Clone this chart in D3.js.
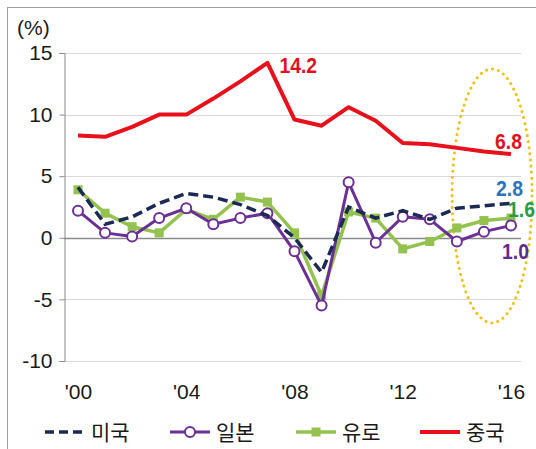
<!DOCTYPE html>
<html>
<head>
<meta charset="utf-8">
<script src="https://cdn.jsdelivr.net/npm/d3@7/dist/d3.min.js"></script>
<style>
  html, body { margin: 0; padding: 0; background: #fff; }
  svg { display: block; }
  .num { font-family: "Liberation Sans", Arial, sans-serif; }
  .kr { font-family: "Noto Sans CJK KR", sans-serif; }
</style>
</head>
<body>
<svg id="chart" width="536" height="449"></svg>
<script>
// Real GDP growth (%), 2000-2016
const years = d3.range(2000, 2017);
const xTickYears = [2000, 2004, 2008, 2012, 2016];
const yTicks = [15, 10, 5, 0, -5, -10];

const usGrowth    = [4.1, 1.1, 1.7, 2.8, 3.6, 3.3, 2.7, 1.8, 0.0, -2.8, 2.5, 1.6, 2.2, 1.5, 2.4, 2.6, 2.8];
const japanGrowth = [2.2, 0.4, 0.1, 1.6, 2.4, 1.1, 1.6, 2.0, -1.1, -5.5, 4.5, -0.4, 1.7, 1.5, -0.3, 0.5, 1.0];
const euroGrowth  = [3.9, 2.0, 0.9, 0.4, 2.3, 1.5, 3.3, 2.9, 0.4, -4.7, 2.1, 1.6, -0.9, -0.3, 0.8, 1.4, 1.6];
const chinaGrowth = [8.3, 8.2, 9.0, 10.0, 10.0, 11.3, 12.7, 14.2, 9.6, 9.1, 10.6, 9.5, 7.7, 7.6, 7.3, 7.0, 6.8];

const seriesNames = ["미국", "일본", "유로", "중국"];

const svg = d3.select("#chart");

// frame
svg.append("rect")
  .attr("x", 7.5).attr("y", 7.5).attr("width", 540).attr("height", 450)
  .attr("fill", "none").attr("stroke", "#a0a0a0").attr("stroke-width", 1);

const x = d3.scaleLinear().domain([2000, 2016]).range([78, 511]);
const y = d3.scaleLinear().domain([-10, 15]).range([361, 53]);

// gridlines
svg.append("g").selectAll("line")
  .data(yTicks)
  .join("line")
  .attr("x1", 64).attr("x2", 521)
  .attr("y1", d => Math.round(y(d)) + 0.5).attr("y2", d => Math.round(y(d)) + 0.5)
  .attr("stroke", d => d === 0 ? "#8a8a8a" : "#d9d9d9")
  .attr("stroke-width", d => d === 0 ? 1.3 : 1.2);

// y axis
const yAxis = d3.axisLeft(y).tickValues(yTicks).tickSize(5).tickPadding(7)
  .tickFormat(d => String(d));
const gy = svg.append("g").attr("transform", "translate(64.5,0)").call(yAxis);
gy.select(".domain").attr("stroke", "#8a8a8a");
gy.selectAll(".tick line").attr("stroke", "#8a8a8a");
gy.selectAll(".tick text")
  .attr("class", "num")
  .attr("font-size", 21)
  .attr("fill", "#1a1a1a");

// x tick labels
const xAxis = d3.axisBottom(x).tickValues(xTickYears)
  .tickFormat(d => "'" + String(d).slice(2)).tickSize(0).tickPadding(0);
const gx = svg.append("g").attr("transform", "translate(0,384)").call(xAxis);
gx.select(".domain").remove();
gx.selectAll(".tick text")
  .attr("class", "num")
  .attr("font-size", 21)
  .attr("fill", "#1a1a1a");

// unit label
svg.append("text").attr("class", "num")
  .attr("x", 17).attr("y", 35)
  .attr("font-size", 21).attr("fill", "#1a1a1a")
  .text("(%)");

// highlight ellipse around the latest years
svg.append("ellipse")
  .attr("cx", x(2015.3)).attr("cy", y(3.4))
  .attr("rx", 40).attr("ry", 127)
  .attr("fill", "none")
  .attr("stroke", "#efc218")
  .attr("stroke-width", 3)
  .attr("stroke-linecap", "round")
  .attr("stroke-dasharray", "0.1 6");

const line = d3.line().x((d, i) => x(years[i])).y(d => y(d));

const colors = {
  china: "#e8101a",
  us: "#1b2a55",
  japan: "#6b2f96",
  euro: "#93c24f"
};

// China
svg.append("path").datum(chinaGrowth)
  .attr("d", line).attr("fill", "none")
  .attr("stroke", colors.china).attr("stroke-width", 4)
  .attr("stroke-linejoin", "round");

// Euro area
svg.append("path").datum(euroGrowth)
  .attr("d", line).attr("fill", "none")
  .attr("stroke", colors.euro).attr("stroke-width", 3.5)
  .attr("stroke-linejoin", "round");
svg.append("g").selectAll("rect")
  .data(euroGrowth)
  .join("rect")
  .attr("x", (d, i) => x(years[i]) - 4.5)
  .attr("y", d => y(d) - 4.5)
  .attr("width", 9).attr("height", 9)
  .attr("fill", colors.euro);

// Japan
svg.append("path").datum(japanGrowth)
  .attr("d", line).attr("fill", "none")
  .attr("stroke", colors.japan).attr("stroke-width", 3)
  .attr("stroke-linejoin", "round");
svg.append("g").selectAll("circle")
  .data(japanGrowth)
  .join("circle")
  .attr("cx", (d, i) => x(years[i]))
  .attr("cy", d => y(d))
  .attr("r", 5)
  .attr("fill", "#fff")
  .attr("stroke", colors.japan).attr("stroke-width", 2);

// United States
svg.append("path").datum(usGrowth)
  .attr("d", line).attr("fill", "none")
  .attr("stroke", colors.us).attr("stroke-width", 3.5)
  .attr("stroke-dasharray", "10 5");

// value labels (bold, slightly condensed)
const valueLabels = [
  { text: chinaGrowth[7].toFixed(1), year: 2007, v: chinaGrowth[7], dx: 12, dy: 10, color: "#e3101b", anchor: "start" },
  { text: chinaGrowth[16].toFixed(1), year: 2016, v: chinaGrowth[16], dx: 11, dy: -5, color: "#e3101b", anchor: "end" },
  { text: usGrowth[16].toFixed(1), year: 2016, v: usGrowth[16], dx: 12, dy: -7, color: "#2c74b8", anchor: "end" },
  { text: euroGrowth[16].toFixed(1), year: 2016, v: euroGrowth[16], dx: 24, dy: -1, color: "#1f9e4b", anchor: "end" },
  { text: japanGrowth[16].toFixed(1), year: 2016, v: japanGrowth[16], dx: 18, dy: 34, color: "#5b2d8e", anchor: "end" }
];
svg.append("g").selectAll("text")
  .data(valueLabels)
  .join("text")
  .attr("class", "num")
  .attr("transform", d => `translate(${x(d.year) + d.dx},${y(d.v) + d.dy}) scale(0.88,1)`)
  .attr("text-anchor", d => d.anchor)
  .attr("font-size", 22).attr("font-weight", "bold")
  .attr("fill", d => d.color)
  .text(d => d.text);

// legend
const legend = svg.append("g").attr("transform", "translate(0,432)");
const legendX = [45, 170, 296, 420];

// 미국
legend.append("line").attr("x1", legendX[0]).attr("x2", legendX[0] + 38)
  .attr("stroke", colors.us).attr("stroke-width", 3.5).attr("stroke-dasharray", "9 5");
// 일본
legend.append("line").attr("x1", legendX[1]).attr("x2", legendX[1] + 40)
  .attr("stroke", colors.japan).attr("stroke-width", 3);
legend.append("circle").attr("cx", legendX[1] + 20).attr("r", 5)
  .attr("fill", "#fff").attr("stroke", colors.japan).attr("stroke-width", 2);
// 유로
legend.append("line").attr("x1", legendX[2]).attr("x2", legendX[2] + 40)
  .attr("stroke", colors.euro).attr("stroke-width", 3.5);
legend.append("rect").attr("x", legendX[2] + 15.5).attr("y", -4.5).attr("width", 9).attr("height", 9)
  .attr("fill", colors.euro);
// 중국
legend.append("line").attr("x1", legendX[3]).attr("x2", legendX[3] + 40)
  .attr("stroke", colors.china).attr("stroke-width", 4);

legend.selectAll("text.lab")
  .data(seriesNames)
  .join("text")
  .attr("class", "kr lab")
  .attr("x", (d, i) => legendX[i] + 46)
  .attr("y", 8)
  .attr("font-size", 21)
  .attr("fill", "#1a1a1a")
  .text(d => d);
</script>
</body>
</html>
